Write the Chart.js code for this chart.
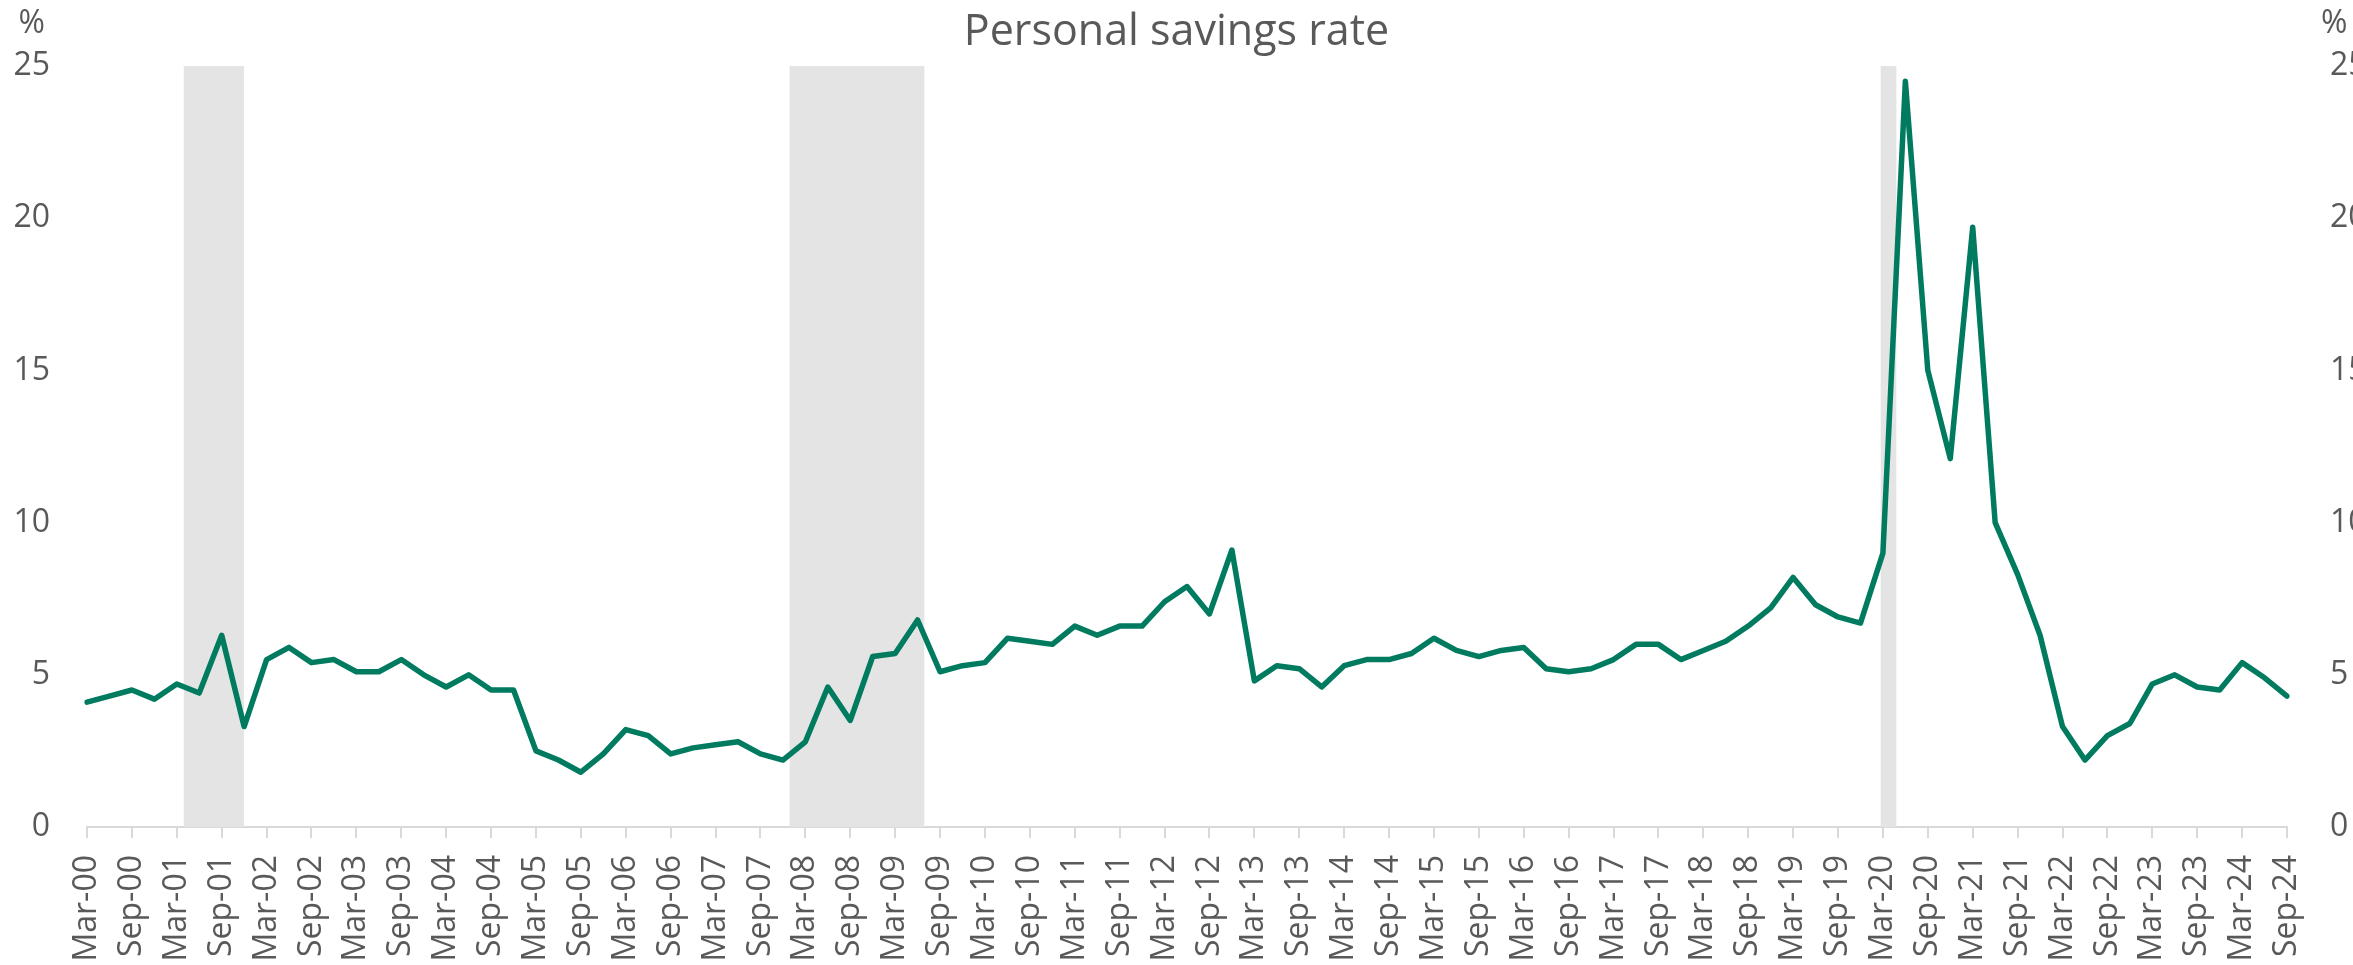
<!DOCTYPE html>
<html>
<head>
<meta charset="utf-8">
<script src="https://cdn.jsdelivr.net/npm/chart.js@4.4.1/dist/chart.umd.min.js"></script>
<style>
  html, body { margin: 0; padding: 0; background: #ffffff; overflow: hidden; }
  #wrap { width: 2353px; height: 965px; position: relative; }
</style>
</head>
<body>
<div id="wrap"><canvas id="c" width="2353" height="965"></canvas></div>
<script>
// ---------- data ----------
const years = ['00','01','02','03','04','05','06','07','08','09','10','11','12',
               '13','14','15','16','17','18','19','20','21','22','23','24'];
const quarterMonths = ['Mar','Jun','Sep','Dec'];
const quarterCount = 99; // Mar-00 .. Sep-24

const savingsRate = [
  4.1, 4.3, 4.5, 4.2, 4.7, 4.4, 6.3, 3.3,          // 2000-2001
  5.5, 5.9, 5.4, 5.5, 5.1, 5.1, 5.5, 5.0,          // 2002-2003
  4.6, 5.0, 4.5, 4.5, 2.5, 2.2, 1.8, 2.4,          // 2004-2005
  3.2, 3.0, 2.4, 2.6, 2.7, 2.8, 2.4, 2.2,          // 2006-2007
  2.8, 4.6, 3.5, 5.6, 5.7, 6.8, 5.1, 5.3,          // 2008-2009
  5.4, 6.2, 6.1, 6.0, 6.6, 6.3, 6.6, 6.6,          // 2010-2011
  7.4, 7.9, 7.0, 9.1, 4.8, 5.3, 5.2, 4.6,          // 2012-2013
  5.3, 5.5, 5.5, 5.7, 6.2, 5.8, 5.6, 5.8,          // 2014-2015
  5.9, 5.2, 5.1, 5.2, 5.5, 6.0, 6.0, 5.5,          // 2016-2017
  5.8, 6.1, 6.6, 7.2, 8.2, 7.3, 6.9, 6.7,          // 2018-2019
  9.0, 24.5, 15.0, 12.1, 19.7, 10.0, 8.3, 6.3,     // 2020-2021
  3.3, 2.2, 3.0, 3.4, 4.7, 5.0, 4.6, 4.5,          // 2022-2023
  5.4, 4.9, 4.3                                    // 2024
];

// recession periods, in quarter positions counted from Mar-00
const recessionStart = [4.31, 31.3, 79.9];
const recessionEnd   = [6.99, 37.3, 80.6];

const yTickValues = [0, 5, 10, 15, 20, 25];

// ---------- labels ----------
const quarterLabels = [];
for (const y of years) {
  for (const m of quarterMonths) {
    if (quarterLabels.length < quarterCount) quarterLabels.push(m + '-' + y);
  }
}

const TEXT = '#595959';
const FONT = "'Open Sans', 'Noto Sans', sans-serif";

const recessionPlugin = {
  id: 'recessions',
  beforeDatasetsDraw(chart) {
    const { ctx } = chart;
    const xs = chart.scales.x, ys = chart.scales.y;
    const top = ys.getPixelForValue(yTickValues[yTickValues.length - 1]);
    const bottom = ys.getPixelForValue(0);
    ctx.save();
    ctx.fillStyle = '#E4E4E4';
    for (let k = 0; k < recessionStart.length; k++) {
      const x1 = xs.getPixelForValue(recessionStart[k]);
      const x2 = xs.getPixelForValue(recessionEnd[k]);
      ctx.fillRect(x1, top, x2 - x1, bottom - top);
    }
    ctx.restore();
  }
};

const unitPlugin = {
  id: 'units',
  afterDraw(chart) {
    const { ctx, chartArea } = chart;
    const yl = chart.scales.y, yr = chart.scales.y2;
    ctx.save();
    ctx.fillStyle = TEXT;
    ctx.font = "32px " + FONT;
    ctx.textBaseline = 'middle';
    const yPos = chartArea.top - 42;
    ctx.textAlign = 'right';
    ctx.fillText('%', yl.right - 37 - 5, yPos);
    ctx.textAlign = 'left';
    ctx.fillText('%', yr.left + 43 - 9, yPos);
    ctx.restore();
  }
};

new Chart(document.getElementById('c'), {
  type: 'line',
  data: {
    labels: quarterLabels,
    datasets: [{
      label: 'Personal savings rate',
      data: savingsRate,
      yAxisID: 'y',
      borderColor: '#007B5F',
      backgroundColor: '#007B5F',
      borderWidth: 5.5,
      pointRadius: 0,
      tension: 0,
      borderJoinStyle: 'round',
      borderCapStyle: 'round',
      fill: false
    }]
  },
  options: {
    responsive: false,
    animation: false,
    devicePixelRatio: 1,
    layout: { padding: 0 },
    plugins: {
      legend: { display: false },
      tooltip: { enabled: false },
      title: {
        display: true,
        text: 'Personal savings rate',
        color: TEXT,
        font: { family: FONT, size: 43, weight: 'normal' },
        padding: { top: 7, bottom: 7.4 }
      }
    },
    scales: {
      x: {
        type: 'category',
        offset: false,
        grid: {
          drawOnChartArea: false,
          drawTicks: true,
          tickLength: 11,
          lineWidth: 2,
          color: (c) => (c.index % 2 === 0 ? '#D9D9D9' : 'rgba(0,0,0,0)')
        },
        border: { display: true, color: '#D9D9D9', width: 2 },
        ticks: {
          autoSkip: false,
          minRotation: 90,
          maxRotation: 90,
          padding: 17,
          color: TEXT,
          font: { family: FONT, size: 32 },
          callback: (v, i) => (i % 2 === 0 ? quarterLabels[i] : '')
        },
        afterFit: (s) => { s.height = 138; }
      },
      y: {
        type: 'linear',
        position: 'left',
        min: 0,
        max: 25,
        grid: { display: false, drawTicks: false },
        border: { display: false },
        ticks: { stepSize: 5, padding: 37, color: TEXT, font: { family: FONT, size: 32 } },
        afterFit: (s) => { s.width = 87; }
      },
      y2: {
        type: 'linear',
        position: 'right',
        min: 0,
        max: 25,
        grid: { display: false, drawTicks: false },
        border: { display: false },
        ticks: { stepSize: 5, padding: 43, color: TEXT, font: { family: FONT, size: 32 } },
        afterFit: (s) => { s.width = 66; }
      }
    }
  },
  plugins: [recessionPlugin, unitPlugin]
});
</script>
</body>
</html>
